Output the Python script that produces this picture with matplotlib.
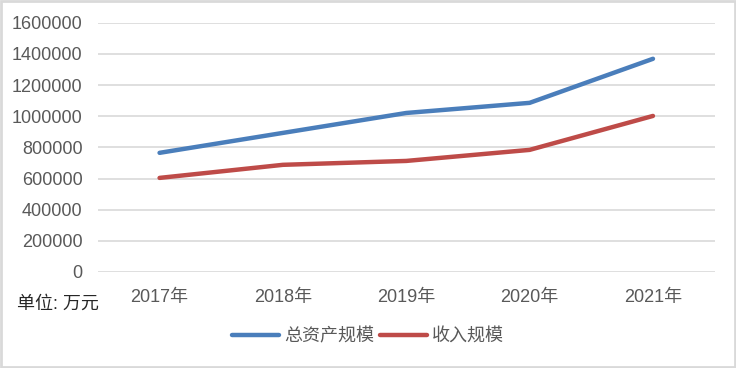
import matplotlib.pyplot as plt
from matplotlib.patches import Rectangle

plt.rcParams['font.family'] = ['Liberation Sans', 'Noto Sans CJK SC', 'DejaVu Sans']

years = ['2017年', '2018年', '2019年', '2020年', '2021年']
total_assets = [765000, 893000, 1021000, 1086000, 1369000]
revenue = [604000, 688000, 713000, 784000, 1002000]
y_ticks = [0, 200000, 400000, 600000, 800000, 1000000, 1200000, 1400000, 1600000]

fig = plt.figure(figsize=(7.36, 3.68), dpi=100)
ax = fig.add_axes([0.133, 0.261, 0.838, 0.677])

x = range(len(years))
ax.plot(x, total_assets, color='#4A7EBB', lw=3.2, label='总资产规模', solid_capstyle='round')
ax.plot(x, revenue, color='#BE4B48', lw=3.2, label='收入规模', solid_capstyle='round')

ax.set_xlim(-0.5, len(years) - 0.5)
ax.set_ylim(0, 1600000)
ax.set_yticks(y_ticks)
ax.set_yticklabels([str(v) for v in y_ticks])
ax.set_xticks(list(x))
ax.set_xticklabels(years)
ax.grid(axis='y', color='#D9D9D9', lw=1.2)
ax.set_axisbelow(True)
for s in ax.spines.values():
    s.set_visible(False)
ax.tick_params(axis='both', length=0, labelsize=13, colors='#595959')
ax.tick_params(axis='y', pad=11)
ax.tick_params(axis='x', pad=12)

fig.text(0.023, 0.16, '单位: 万元', fontsize=13, color='#262626')

leg = ax.legend(loc='center', bbox_to_anchor=(0.5, 0.085), bbox_transform=fig.transFigure,
                ncol=2, frameon=False, fontsize=13, handlelength=2.6,
                handletextpad=0.3, columnspacing=0.3)
for t in leg.get_texts():
    t.set_color('#595959')

fig.patches.append(Rectangle((0.002, 0.003), 0.996, 0.994, transform=fig.transFigure,
                             fill=False, edgecolor='#D9D9D9', lw=2))

fig.savefig('out.png', dpi=100)
